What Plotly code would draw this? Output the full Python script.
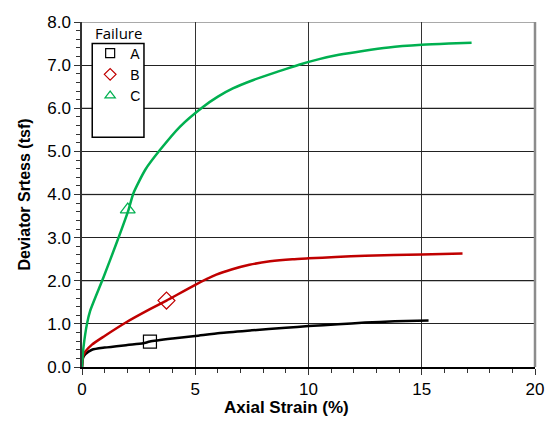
import plotly.graph_objects as go

# Stress-strain curves (axial strain %, deviator stress tsf)
strain_a = [0.0, 0.05, 0.15, 0.44, 1.0, 2.0, 2.7, 3.0, 4.0, 5.0, 6.1, 7.5, 9.0, 10.0, 11.3, 12.5, 13.8, 15.3]
stress_a = [0.0, 0.22, 0.30, 0.40, 0.45, 0.51, 0.55, 0.59, 0.66, 0.72, 0.79, 0.85, 0.91, 0.95, 0.99, 1.03, 1.06, 1.08]

strain_b = [0.0, 0.05, 0.15, 0.44, 1.0, 1.9, 3.0, 3.73, 4.98, 5.93, 6.6, 7.39, 8.3, 9.29, 10.0, 11.2, 12.5, 15.0, 16.8]
stress_b = [0.0, 0.25, 0.36, 0.52, 0.72, 1.02, 1.34, 1.54, 1.90, 2.14, 2.26, 2.37, 2.45, 2.50, 2.52, 2.55, 2.58, 2.61, 2.63]

strain_c = [0.0, 0.03, 0.07, 0.22, 0.36, 0.95, 1.5, 2.05, 2.27, 2.8, 3.44, 4.32, 5.34, 6.0, 6.66, 7.54, 8.71, 9.58, 10.47, 11.34, 12.4, 13.54, 15.0, 16.2, 17.2]
stress_c = [0.0, 0.25, 0.48, 1.0, 1.3, 2.08, 2.84, 3.64, 4.03, 4.58, 5.03, 5.57, 6.03, 6.27, 6.46, 6.65, 6.86, 7.01, 7.14, 7.24, 7.33, 7.41, 7.47, 7.50, 7.52]

# Failure points
fail_names = ["A", "B", "C"]
fail_strain = [3.0, 3.73, 2.02]
fail_stress = [0.59, 1.54, 3.65]
fail_symbols = ["square-open", "diamond-open", "triangle-up-open"]

colors = ["#000000", "#c00000", "#00b050"]

fig = go.Figure()

for xs, ys, col in [(strain_a, stress_a, colors[0]),
                    (strain_b, stress_b, colors[1]),
                    (strain_c, stress_c, colors[2])]:
    fig.add_trace(go.Scatter(x=xs, y=ys, mode="lines",
                             line=dict(color=col, width=2.5, shape="spline", smoothing=0.6),
                             showlegend=False, hoverinfo="skip"))

for name, xs, ys, sym, col in zip(fail_names, fail_strain, fail_stress, fail_symbols, colors):
    fig.add_trace(go.Scatter(x=[xs], y=[ys], mode="markers",
                             marker=dict(symbol=sym, size=13, color=col,
                                         line=dict(color=col, width=1.2)),
                             showlegend=False))
    # legend swatch
    fig.add_trace(go.Scatter(x=[None], y=[None], mode="markers", name=name,
                             marker=dict(symbol=sym, size=9, color=col,
                                         line=dict(color=col, width=1.2))))

# lighter gridlines at even stress values
shapes = []
for yv in [2, 4, 6, 8]:
    shapes.append(dict(type="line", xref="paper", yref="y", x0=0, x1=1, y0=yv, y1=yv,
                       line=dict(color="#8c8c8c", width=1.5), layer="below"))
# right border
shapes.append(dict(type="line", xref="paper", yref="paper", x0=1, x1=1, y0=0, y1=1,
                   line=dict(color="#8c8c8c", width=2.5), layer="above"))
# legend box
shapes.append(dict(type="rect", xref="paper", yref="paper", x0=0.0226, x1=0.1368,
                   y0=0.666, y1=0.938, line=dict(color="#000000", width=1.5),
                   fillcolor="white", layer="above"))

fig.update_layout(
    width=556, height=424,
    margin=dict(l=82, r=19, t=22, b=57),
    paper_bgcolor="white", plot_bgcolor="white",
    font=dict(family="Liberation Sans, Arial, sans-serif", size=17, color="#000"),
    shapes=shapes,
    showlegend=True,
    legend=dict(x=0.018, y=0.955, xanchor="left", yanchor="top",
                bgcolor="rgba(0,0,0,0)", borderwidth=0, itemwidth=30,
                font=dict(family="Liberation Sans, Arial, sans-serif", size=14),
                tracegroupgap=0, itemclick=False),
    annotations=[
        dict(text="Failure", xref="paper", yref="paper", x=0.0797, y=0.967,
             xanchor="center", yanchor="middle", showarrow=False,
             font=dict(family="Open Sans, sans-serif", size=15)),
        dict(text="<b>Axial Strain (%)</b>", xref="paper", yref="paper", x=0.451, y=-0.118,
             xanchor="center", yanchor="middle", showarrow=False,
             font=dict(family="Liberation Sans, Arial, sans-serif", size=17)),
    ],
)

fig.update_xaxes(
    range=[0, 20], dtick=5, tick0=0,
    showgrid=True, gridcolor="#333333", gridwidth=1.2,
    showline=True, linecolor="#000000", linewidth=1.5,
    ticks="outside", ticklen=6, tickcolor="#333",
    minor=dict(dtick=1, ticks="outside", ticklen=4, tickcolor="#333", showgrid=False),
    zeroline=False,
    tickfont=dict(size=17),
)
fig.update_yaxes(
    range=[0, 8], dtick=1, tick0=0, tickformat=".1f",
    showgrid=True, gridcolor="#222222", gridwidth=1.2,
    showline=True, linecolor="#333333", linewidth=1.5,
    ticks="outside", ticklen=6, tickcolor="#333",
    minor=dict(dtick=0.2, ticks="outside", ticklen=4, tickcolor="#333", showgrid=False),
    zeroline=False,
    tickfont=dict(size=17),
    title=dict(text="<b>Deviator Srtess (tsf)</b>", font=dict(size=16), standoff=13),
)

fig.write_html("out.html")
